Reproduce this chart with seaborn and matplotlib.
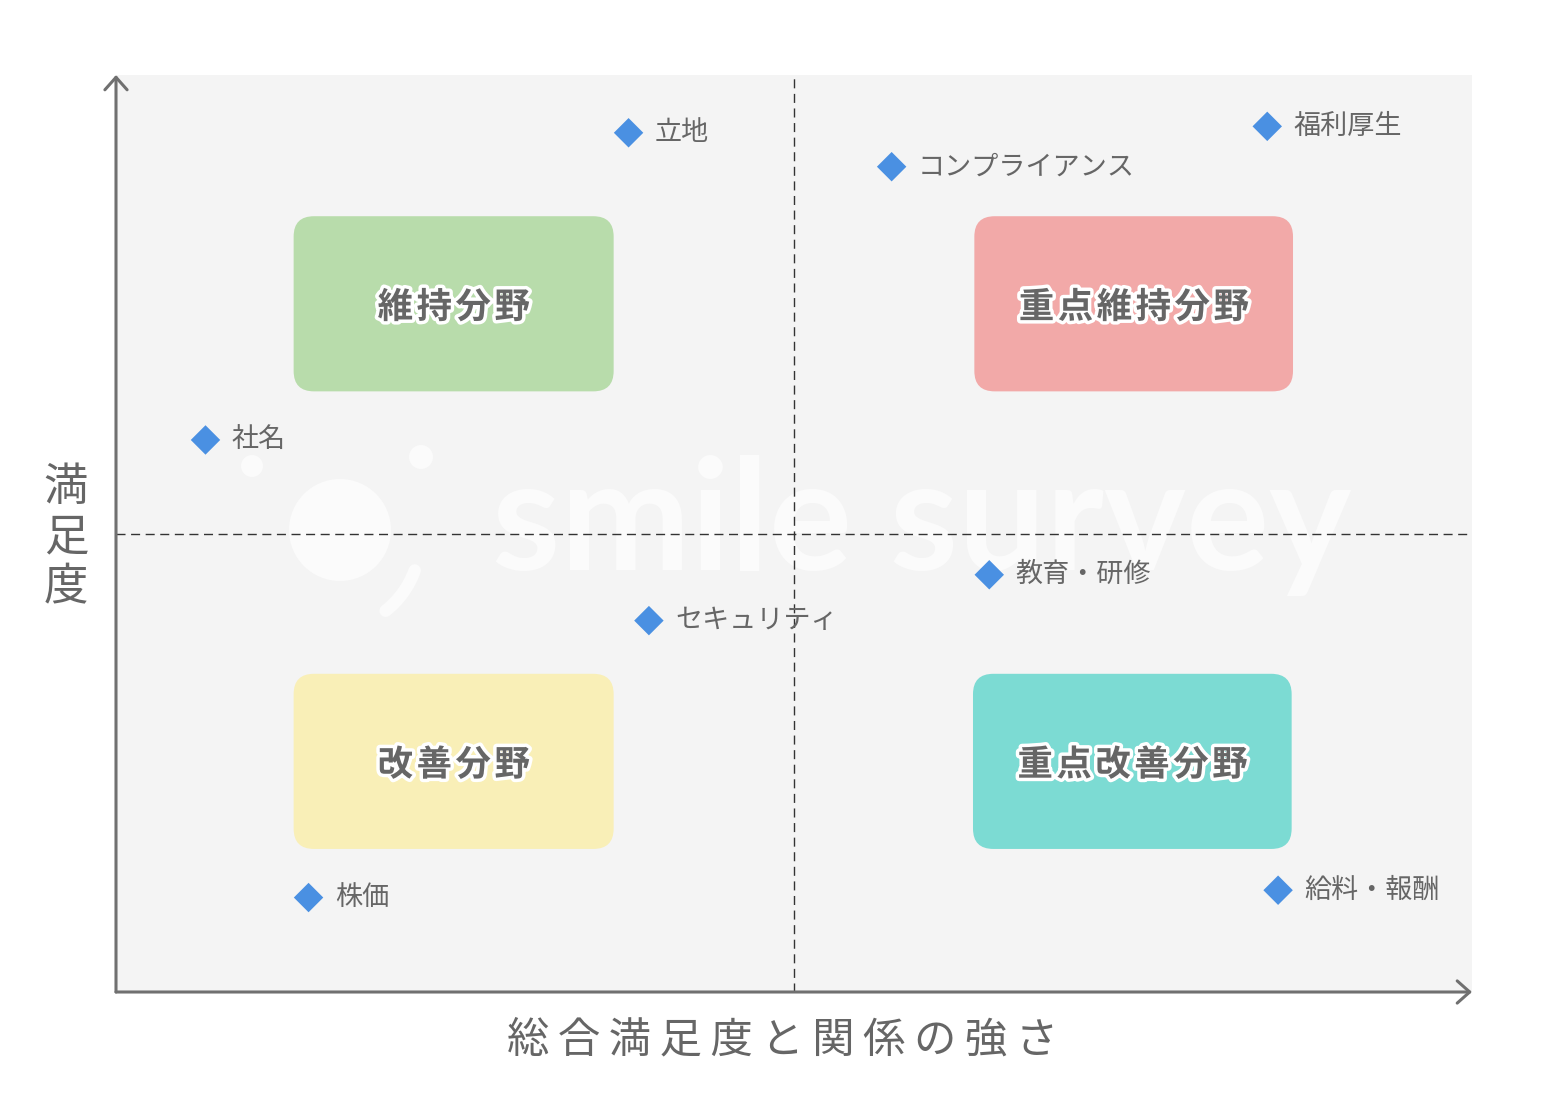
import matplotlib
matplotlib.use("Agg")
import matplotlib.pyplot as plt
import matplotlib.patheffects as pe
from matplotlib.patches import FancyBboxPatch, Ellipse, Arc
import seaborn as sns
import pandas as pd

# ---- data ----
items = ['立地', 'コンプライアンス', '福利厚生', '社名', '教育・研修', 'セキュリティ', '株価', '給料・報酬']
x_vals = [3.78, 5.72, 8.49, 0.66, 6.44, 3.93, 1.42, 8.57]
y_vals = [9.37, 9.00, 9.44, 6.02, 4.55, 4.05, 1.03, 1.11]

quad_labels = ['維持分野', '重点維持分野', '改善分野', '重点改善分野']
quad_colors = ['#b8dcab', '#f2a9a8', '#f9efb7', '#7cdbd3']

x_title = '総合満足度と関係の強さ'
y_title = '満足度'

df = pd.DataFrame({'item': items, 'x': x_vals, 'y': y_vals})

sns.set_style('white')
plt.rcParams['font.family'] = ['Noto Sans CJK JP', 'DejaVu Sans']

W, H = 1568, 1095
fig = plt.figure(figsize=(W / 100, H / 100), dpi=100)
fig.patch.set_facecolor('white')

L, R, T, B = 116, 1472, 75, 992
ax = fig.add_axes([L / W, 1 - B / H, (R - L) / W, (B - T) / H])
ax.set_facecolor('#f4f4f4')
ax.set_xlim(0, 10)
ax.set_ylim(0, 10)
ax.set_xticks([])
ax.set_yticks([])
for s in ax.spines.values():
    s.set_visible(False)

def fx(px):
    return px / W
def fy(py):
    return 1 - py / H

px_per_x = (R - L) / 10
px_per_y = (B - T) / 10
def dx(px):
    return (px - L) / px_per_x
def dy(py):
    return (B - py) / px_per_y

# ---- watermark (behind everything in the axes) ----
wm = '#fbfbfb'
ax.text(fx(922), fy(570), 'smile survey', family='Lato', fontweight='bold',
        fontsize=112, color=wm, ha='center', va='baseline', zorder=0.5,
        transform=fig.transFigure)
ax.add_patch(Ellipse((dx(340), dy(530)), 102 / px_per_x, 102 / px_per_y, color=wm, zorder=0.5, lw=0))
ax.add_patch(Ellipse((dx(421), dy(457)), 24 / px_per_x, 24 / px_per_y, color=wm, zorder=0.5, lw=0))
ax.add_patch(Ellipse((dx(252), dy(466)), 22 / px_per_x, 22 / px_per_y, color=wm, zorder=0.5, lw=0))
ax.add_patch(Arc((dx(330), dy(540)), 180 / px_per_x, 180 / px_per_y, theta1=-62, theta2=-28,
                 color=wm, lw=9, zorder=0.5, capstyle='round'))

# ---- quadrant boxes ----
aspect = px_per_x / px_per_y
boxes = [(1.31, 6.55, 3.67, 8.46), (6.33, 6.55, 8.68, 8.46),
         (1.31, 1.56, 3.67, 3.47), (6.32, 1.56, 8.67, 3.47)]
for (x0, y0, x1, y1), lab, col in zip(boxes, quad_labels, quad_colors):
    p = FancyBboxPatch((x0, y0), x1 - x0, y1 - y0,
                       boxstyle='round,pad=0,rounding_size=0.15',
                       mutation_aspect=aspect, facecolor=col, edgecolor='none', zorder=1)
    ax.add_patch(p)
    ax.text((x0 + x1) / 2, (y0 + y1) / 2 - 0.04, '\u200a'.join(lab), ha='center', va='center',
            fontsize=25.5, fontweight='bold', color='#666666', zorder=2,
            path_effects=[pe.withStroke(linewidth=5, foreground='white')])

# ---- dashed quadrant lines ----
ax.axvline(5, color='#333333', lw=1, ls=(0, (6.5, 4)), zorder=1.5)
ax.axhline(5, color='#333333', lw=1, ls=(0, (6.5, 4)), zorder=1.5)

# ---- points ----
sns.scatterplot(data=df, x='x', y='y', marker='D', s=225, color='#4a90e2',
                edgecolor='none', ax=ax, zorder=3, legend=False)
for _, r in df.iterrows():
    ax.annotate(r['item'], (r['x'], r['y']), xytext=(19, 0), textcoords='offset points',
                ha='left', va='center', fontsize=19.5, color='#666666', zorder=3)
ax.set_xlabel('')
ax.set_ylabel('')
ax.set_xlim(0, 10)
ax.set_ylim(0, 10)

# ---- axis arrows ----
arrow_kw = dict(arrowstyle='->,head_length=0.45,head_width=0.4', lw=2.2, color='#707070',
                shrinkA=0, shrinkB=0, mutation_scale=20)
ax.annotate('', xy=(0, 10), xytext=(0, 0), xycoords='data', arrowprops=arrow_kw, annotation_clip=False)
ax.annotate('', xy=(10, 0), xytext=(0, 0), xycoords='data', arrowprops=arrow_kw, annotation_clip=False)

# ---- titles ----
fig.text(fx(783), fy(1040), '\u2009'.join(x_title), ha='center', va='center',
         fontsize=30.5, color='#666666')
fig.text(fx(66), fy(537), '\n'.join(y_title), ha='center', va='center',
         fontsize=32, color='#666666', linespacing=1.12)

fig.savefig('out.png', dpi=100, facecolor='white')
